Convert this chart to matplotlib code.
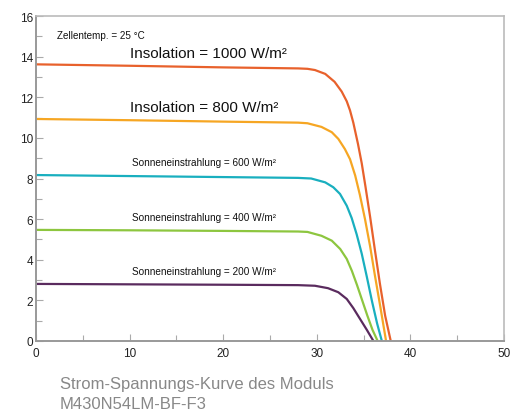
import matplotlib
matplotlib.use("Agg")
import matplotlib.pyplot as plt
from matplotlib.ticker import MultipleLocator

# Data (voltage V, current A)
v_1000 = [0, 10, 20, 28.0, 29.0, 29.8, 30.9, 31.9, 32.66, 33.2, 33.55, 33.9, 34.4, 34.8, 35.2, 35.7, 36.2, 36.75, 37.3, 37.9]
i_1000 = [13.62, 13.55, 13.47, 13.42, 13.40, 13.34, 13.15, 12.76, 12.28, 11.80, 11.35, 10.75, 9.70, 8.75, 7.60, 6.10, 4.50, 2.80, 1.25, 0]
v_800 = [0, 10, 20, 28.0, 29.0, 30.5, 31.6, 32.3, 33.0, 33.55, 34.1, 34.6, 35.15, 35.7, 36.2, 36.8, 37.4]
i_800 = [10.93, 10.87, 10.80, 10.75, 10.72, 10.54, 10.28, 9.95, 9.45, 8.95, 8.15, 7.20, 6.00, 4.65, 3.25, 1.65, 0]
v_600 = [0, 10, 20, 28.0, 29.4, 30.9, 31.76, 32.48, 33.2, 33.73, 34.26, 34.8, 35.35, 35.9, 36.45, 36.95]
i_600 = [8.17, 8.12, 8.07, 8.03, 8.00, 7.81, 7.57, 7.24, 6.66, 6.05, 5.25, 4.30, 3.15, 1.95, 0.85, 0]
v_400 = [0, 10, 20, 28.0, 29.0, 30.5, 31.6, 32.5, 33.2, 33.75, 34.3, 34.85, 35.4, 35.95, 36.5]
i_400 = [5.47, 5.45, 5.42, 5.39, 5.37, 5.18, 4.94, 4.53, 4.04, 3.45, 2.75, 2.00, 1.25, 0.55, 0]
v_200 = [0, 10, 20, 28.0, 29.8, 31.2, 32.3, 33.2, 33.9, 34.6, 35.33, 36.05]
i_200 = [2.81, 2.79, 2.77, 2.75, 2.72, 2.60, 2.40, 2.07, 1.62, 1.10, 0.56, 0]

labels = ["Insolation = 1000 W/m²", "Insolation = 800 W/m²",
          "Sonneneinstrahlung = 600 W/m²", "Sonneneinstrahlung = 400 W/m²",
          "Sonneneinstrahlung = 200 W/m²"]
colors = ["#E8612C", "#F6A623", "#19AFBF", "#8DC63F", "#5A2B5E"]
curves = [(v_1000, i_1000), (v_800, i_800), (v_600, i_600), (v_400, i_400), (v_200, i_200)]

FONT = ["Liberation Sans", "DejaVu Sans"]
plt.rcParams['font.family'] = FONT

fig = plt.figure(figsize=(5.22, 4.14), dpi=100)
ax = fig.add_axes([36/522, 1-342/414, 468/522, 325/414])

for (v, i), c in zip(curves, colors):
    ax.plot(v, i, color=c, lw=1.6, solid_capstyle='butt', solid_joinstyle='round')

ax.set_xlim(0, 50)
ax.set_ylim(0, 16)
ax.xaxis.set_major_locator(MultipleLocator(10))
ax.xaxis.set_minor_locator(MultipleLocator(5))
ax.yaxis.set_major_locator(MultipleLocator(2))
ax.yaxis.set_minor_locator(MultipleLocator(1))
ax.tick_params(which='both', direction='in', color='#aaaaaa', labelsize=8.5, labelcolor='#222222')
ax.tick_params(which='major', length=5, width=0.8)
ax.tick_params(which='minor', length=4, width=0.8)
ax.tick_params(axis='x', pad=4)
ax.tick_params(axis='y', pad=2)

for s in ['left', 'bottom']:
    ax.spines[s].set_color('#999999')
    ax.spines[s].set_linewidth(1.4)
for s in ['top', 'right']:
    ax.spines[s].set_color('#bbbbbb')
    ax.spines[s].set_linewidth(1.2)

ax.text(2.2, 15.05, "Zellentemp. = 25 °C", fontsize=7.1, color='#111111', va='center')
ax.text(10.0, 14.18, labels[0], fontsize=11, color='#111111', va='center')
ax.text(10.0, 11.5, labels[1], fontsize=11, color='#111111', va='center')
ax.text(10.3, 8.8, labels[2], fontsize=7.2, color='#111111', va='center')
ax.text(10.3, 6.08, labels[3], fontsize=7.2, color='#111111', va='center')
ax.text(10.3, 3.43, labels[4], fontsize=7.2, color='#111111', va='center')

fig.text(60/522, 1-385/414, "Strom-Spannungs-Kurve des Moduls", fontsize=12,
         color='#888888', va='center')
fig.text(60/522, 1-405/414, "M430N54LM-BF-F3", fontsize=12,
         color='#888888', va='center')

fig.savefig("out.png", dpi=100)
